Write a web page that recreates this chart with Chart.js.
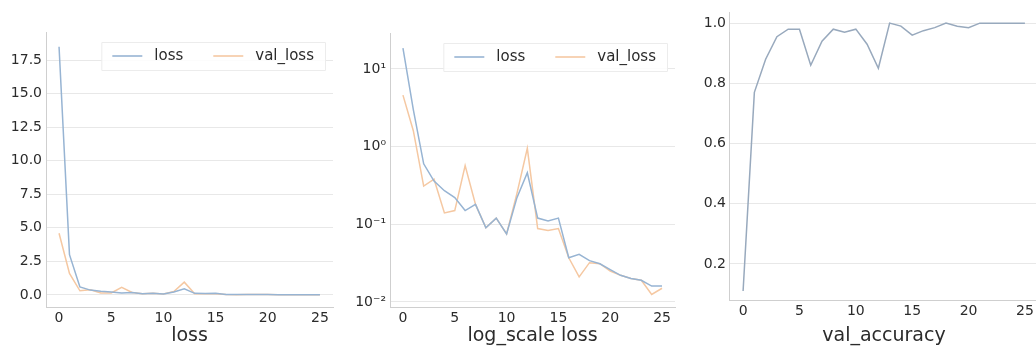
<!DOCTYPE html>
<html>
<head>
<meta charset="utf-8">
<script src="https://cdn.jsdelivr.net/npm/chart.js@4"></script>
<style>
    html, body { margin: 0; padding: 0; background: #fff; overflow: hidden; }
    body { width: 1036px; height: 349px; position: relative; }
    .panel { position: absolute; top: 0; height: 349px; }
    #p1 { left: 0; width: 345px; }
    #p2 { left: 345px; width: 345px; }
    #p3 { left: 690px; width: 360px; }
</style>
</head>
<body>
<div class="panel" id="p1"><canvas id="loss-chart"></canvas></div>
<div class="panel" id="p2"><canvas id="log-chart"></canvas></div>
<div class="panel" id="p3"><canvas id="acc-chart"></canvas></div>
<script>
// Data
const epochs = [0,1,2,3,4,5,6,7,8,9,10,11,12,13,14,15,16,17,18,19,20,21,22,23,24,25];
const loss = [18.5, 3.0, 0.6, 0.36, 0.27, 0.22, 0.15, 0.18, 0.09, 0.12, 0.075, 0.22, 0.46, 0.12, 0.11, 0.12,
              0.037, 0.041, 0.034, 0.031, 0.026, 0.022, 0.020, 0.019, 0.016, 0.016];
const valLoss = [4.6, 1.6, 0.31, 0.38, 0.14, 0.15, 0.57, 0.18, 0.09, 0.12, 0.075, 0.25, 0.95, 0.088, 0.083, 0.088,
                 0.037, 0.021, 0.032, 0.031, 0.025, 0.022, 0.020, 0.019, 0.0125, 0.015];
const valAccuracy = [0.11, 0.77, 0.88, 0.955, 0.98, 0.98, 0.86, 0.94, 0.98, 0.97, 0.98, 0.93, 0.85, 1.0, 0.99, 0.96,
                     0.975, 0.985, 1.0, 0.99, 0.985, 1.0, 1.0, 1.0, 1.0, 1.0];
const xTicks = [0, 5, 10, 15, 20, 25];
const lossTicks = [0, 2.5, 5, 7.5, 10, 12.5, 15, 17.5];
const logTicks = [0.01, 0.1, 1, 10];
const logTickLabels = ['10\u207B\u00B2', '10\u207B\u00B9', '10\u2070', '10\u00B9'];
const accTicks = [0.2, 0.4, 0.6, 0.8, 1.0];

const FONT = 'DejaVu Sans';
const BLUE = '#97b4d3';
const ORANGE = '#f5c8a2';
const ACC = '#98a9bd';
const TEXT = '#2b2b2b';

Chart.defaults.font.family = FONT;
Chart.defaults.color = TEXT;

function points(values) {
    return epochs.map((e, i) => ({ x: e, y: values[i] }));
}

// Legend drawn inside the plot area, top right, like matplotlib
const innerLegend = {
    id: 'innerLegend',
    afterDatasetsDraw(chart) {
        if (!chart.options.plugins.innerLegend || !chart.options.plugins.innerLegend.show) return;
        const ctx = chart.ctx;
        const area = chart.chartArea;
        const sets = chart.data.datasets;
        ctx.save();
        ctx.font = '15px ' + FONT;
        const lineW = 30, pad = 11, gap = 12, colGap = 30;
        let w = pad;
        sets.forEach((ds, i) => {
            w += lineW + gap + ctx.measureText(ds.label).width;
            if (i < sets.length - 1) w += colGap;
        });
        w += pad;
        const h = 28;
        const x0 = area.right - 8 - w;
        const y0 = area.top + 10;
        ctx.fillStyle = 'rgba(255,255,255,0.85)';
        ctx.strokeStyle = '#ececec';
        ctx.lineWidth = 1;
        ctx.beginPath();
        ctx.rect(x0 + 0.5, y0 + 0.5, w, h);
        ctx.fill();
        ctx.stroke();
        let x = x0 + pad;
        const cy = y0 + h / 2;
        sets.forEach(ds => {
            ctx.strokeStyle = ds.borderColor;
            ctx.lineWidth = 1.6;
            ctx.beginPath();
            ctx.moveTo(x, cy);
            ctx.lineTo(x + lineW, cy);
            ctx.stroke();
            x += lineW + gap;
            ctx.fillStyle = TEXT;
            ctx.textBaseline = 'middle';
            ctx.fillText(ds.label, x, cy);
            x += ctx.measureText(ds.label).width + colGap;
        });
        ctx.restore();
    }
};

function makeChart(canvasId, cfg) {
    const xAxis = {
        type: 'linear',
        min: -1.25,
        max: 26.25,
        afterBuildTicks: s => { s.ticks = xTicks.map(v => ({ value: v })); },
        afterFit: s => { s.height = cfg.xHeight; },
        ticks: { padding: 3, font: { size: 14 }, color: TEXT },
        grid: { display: true, color: 'rgba(0,0,0,0)', drawTicks: false },
        border: { display: true, color: '#cfcfcf', width: 1 },
        title: { display: true, text: cfg.title, font: { size: 19 }, color: TEXT, padding: { top: 0, bottom: 2 } }
    };
    const yAxis = {
        type: cfg.yType,
        min: cfg.yMin,
        max: cfg.yMax,
        afterBuildTicks: s => { s.ticks = cfg.yTicks.map(v => ({ value: v })); },
        afterFit: s => { s.width = cfg.yWidth; },
        ticks: {
            padding: cfg.yPad,
            font: { size: 14 },
            color: TEXT,
            callback: cfg.yFormat
        },
        grid: { color: '#e8e8e8', drawTicks: false },
        border: { display: true, color: '#cfcfcf', width: 1 }
    };
    return new Chart(document.getElementById(canvasId), {
        type: 'line',
        data: { datasets: cfg.datasets },
        options: {
            responsive: true,
            maintainAspectRatio: false,
            animation: false,
            layout: { padding: { top: cfg.top, right: cfg.right, left: 0, bottom: 0 } },
            elements: { point: { radius: 0 }, line: { tension: 0, borderWidth: 1.5 } },
            scales: { x: xAxis, y: yAxis },
            plugins: {
                legend: { display: false },
                tooltip: { enabled: false },
                innerLegend: { show: cfg.legend }
            }
        },
        plugins: [innerLegend]
    });
}

document.addEventListener('DOMContentLoaded', function() {
    makeChart('loss-chart', {
        title: 'loss',
        yType: 'linear', yMin: -0.9, yMax: 19.6, yTicks: lossTicks,
        yFormat: v => v.toFixed(1),
        yWidth: 46, yPad: 4, top: 32, right: 12, xHeight: 42, legend: true,
        datasets: [
            { label: 'loss', data: points(loss), borderColor: BLUE },
            { label: 'val_loss', data: points(valLoss), borderColor: ORANGE }
        ]
    });

    makeChart('log-chart', {
        title: 'log_scale loss',
        yType: 'logarithmic', yMin: 0.0086, yMax: 29, yTicks: logTicks,
        yFormat: v => logTickLabels[logTicks.findIndex(t => Math.abs(t - v) < t * 0.01)] || '',
        yWidth: 45, yPad: 4, top: 33, right: 15, xHeight: 42, legend: true,
        datasets: [
            { label: 'loss', data: points(loss), borderColor: BLUE },
            { label: 'val_loss', data: points(valLoss), borderColor: ORANGE }
        ]
    });

    makeChart('acc-chart', {
        title: 'val_accuracy',
        yType: 'linear', yMin: 0.08, yMax: 1.037, yTicks: accTicks,
        yFormat: v => v.toFixed(1),
        yWidth: 39, yPad: 3, top: 12, right: 11, xHeight: 49, legend: false,
        datasets: [
            { label: 'val_accuracy', data: points(valAccuracy), borderColor: ACC }
        ]
    });
});
</script>
</body>
</html>
